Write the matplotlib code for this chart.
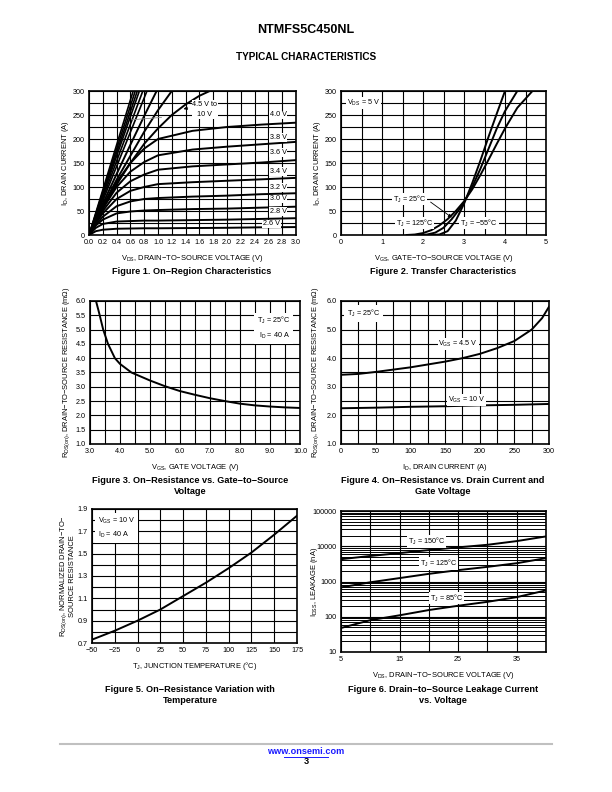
import numpy as np
import matplotlib
matplotlib.use("Agg")
import matplotlib.pyplot as plt
from matplotlib.lines import Line2D
from matplotlib.ticker import MultipleLocator, FixedLocator, NullFormatter, LogLocator

plt.rcParams["font.family"] = ["Liberation Sans", "DejaVu Sans"]
plt.rcParams["mathtext.fontset"] = "custom"
plt.rcParams["mathtext.rm"] = "Liberation Sans"
plt.rcParams["mathtext.it"] = "Liberation Sans"

# ---- Figure 1: on-region characteristics (ID vs VDS) ----
# VGS 4.5 .. 10 V bundle: VDS where the near-linear lines reach 300 A
steep_vds_end = [0.64, 0.67, 0.70, 0.73, 0.78, 0.84]
steep_id_end = 300
curve_a_vds = [0.0, 0.2, 0.4, 0.6, 0.8, 0.98]
curve_a_id = [0, 65, 127, 188, 248, 300]
curve_b_vds = [0.0, 0.2, 0.4, 0.6, 0.8, 1.0, 1.2]
curve_b_id = [0, 60, 115, 165, 215, 260, 300]
vgs45_vds = [0.0, 0.2, 0.4, 0.6, 0.8, 1.0, 1.2, 1.4, 1.6, 1.75]
vgs45_id = [0, 55, 105, 150, 190, 222, 250, 272, 290, 300]

sat_vds = [0.0, 0.1, 0.2, 0.4, 0.6, 0.8, 1.0, 1.5, 2.0, 2.5, 3.0]
sat_id = {
    "4.0 V": [0, 32, 60, 110, 150, 180, 200, 217, 225, 230, 234],
    "3.8 V": [0, 30, 55, 100, 132, 152, 166, 178, 184, 189, 194],
    "3.6 V": [0, 28, 50, 88, 112, 126, 136, 143, 147, 151, 156],
    "3.4 V": [0, 25, 45, 75, 92, 100, 106, 110, 113, 116, 119],
    "3.2 V": [0, 22, 38, 60, 70, 75, 77, 80, 82, 85, 87],
    "3.0 V": [0, 20, 32, 45, 49, 51, 52, 54, 55, 57, 59],
    "2.8 V": [0, 15, 23, 28, 29, 30, 30, 31, 32, 33.5, 35],
    "2.6 V": [0, 8, 11, 13, 13.5, 14, 14, 14.5, 15, 16, 16.5],
}
sat_label_y = {"4.0 V": 250, "3.8 V": 203, "3.6 V": 172, "3.4 V": 133,
               "3.2 V": 99, "3.0 V": 75, "2.8 V": 49, "2.6 V": 23}

# ---- Figure 2: transfer characteristics ----
t_m55_vgs = [2.2, 2.4, 2.6, 2.8, 3.0, 3.2, 3.4, 3.6, 3.8, 4.0]
t_m55_id = [0, 1, 8, 30, 65, 108, 155, 205, 253, 300]
t_25_vgs = [1.9, 2.1, 2.3, 2.5, 2.7, 2.9, 3.0, 3.2, 3.4, 3.6, 3.8, 4.0, 4.3]
t_25_id = [0, 1, 5, 15, 33, 55, 68, 100, 138, 180, 222, 258, 300]
t_125_vgs = [1.6, 1.8, 2.0, 2.2, 2.4, 2.6, 2.8, 3.0, 3.2, 3.4, 3.6, 3.8, 4.0, 4.3, 4.67]
t_125_id = [0, 1, 4, 10, 20, 33, 50, 70, 95, 125, 157, 190, 222, 265, 300]

# ---- Figure 3: RDS(on) vs VGS ----
f3_vgs = [3.2, 3.3, 3.44, 3.6, 3.83, 4.0, 4.38, 5.0, 5.5, 6.0, 6.5, 7.0, 7.5, 8.0, 8.5, 9.0, 9.5, 10.0]
f3_rds = [6.0, 5.6, 5.0, 4.5, 4.0, 3.8, 3.5, 3.22, 3.02, 2.85, 2.72, 2.6, 2.5, 2.41, 2.35, 2.31, 2.28, 2.26]

# ---- Figure 4: RDS(on) vs ID ----
f4_id45 = [0, 25, 50, 75, 100, 125, 150, 175, 200, 225, 250, 275, 290, 300]
f4_rds45 = [3.42, 3.45, 3.52, 3.6, 3.68, 3.78, 3.88, 4.0, 4.15, 4.35, 4.6, 5.0, 5.4, 5.8]
f4_id10 = [0, 50, 100, 150, 200, 250, 300]
f4_rds10 = [2.25, 2.27, 2.3, 2.32, 2.35, 2.37, 2.4]

# ---- Figure 5: normalized RDS(on) vs TJ ----
f5_tj = [-50, -25, 0, 25, 50, 75, 100, 125, 150, 175]
f5_rn = [0.73, 0.81, 0.9, 1.0, 1.12, 1.24, 1.37, 1.51, 1.67, 1.84]

# ---- Figure 6: IDSS leakage vs VDS ----
f6_vds = [5, 10, 15, 20, 25, 30, 35, 40]
f6_150 = [4300, 5300, 6400, 7800, 9300, 11000, 14000, 19000]
f6_125 = [680, 950, 1250, 1650, 2100, 2600, 3300, 4600]
f6_85 = [48, 80, 110, 155, 205, 265, 360, 560]

W, H = 612, 792
fig = plt.figure(figsize=(W / 100, H / 100), dpi=100)

TICK_FS = 5.2
LAB_FS = 5.4
TITLE_FS = 6.6
CURVE_LW = 1.4
box = dict(facecolor="white", edgecolor="none", pad=0.6)


def make_ax(x0, x1, y0, y1):
    ax = fig.add_axes([x0 / W, 1 - y1 / H, (x1 - x0) / W, (y1 - y0) / H])
    for s in ax.spines.values():
        s.set_linewidth(1.2)
    ax.tick_params(which="both", length=0, labelsize=TICK_FS, pad=3)
    ax.grid(which="both", color="black", linewidth=0.8)
    ax.set_axisbelow(True)
    return ax


def fig_title(xc, yc, text):
    fig.text(xc / W, 1 - yc / H, text, ha="center", va="center",
             fontsize=TITLE_FS, fontweight="bold", linespacing=1.25)


# header
fig.text(306 / W, 1 - 30 / H, "NTMFS5C450NL", ha="center", va="center",
         fontsize=9, fontweight="bold")
fig.text(306 / W, 1 - 57 / H, "TYPICAL CHARACTERISTICS", ha="center", va="center",
         fontsize=7.2, fontweight="bold")

# ---------- Figure 1 ----------
ax1 = make_ax(89, 296, 91, 235)
for xe in steep_vds_end:
    ax1.plot([0, xe], [0, steep_id_end], color="black", lw=1.2)
ax1.plot(curve_a_vds, curve_a_id, color="black", lw=CURVE_LW)
ax1.plot(curve_b_vds, curve_b_id, color="black", lw=CURVE_LW)
ax1.plot(vgs45_vds, vgs45_id, color="black", lw=CURVE_LW)
for name, ids in sat_id.items():
    ax1.plot(sat_vds, ids, color="black", lw=CURVE_LW)
    xl = 2.65 if name == "2.6 V" else 2.74
    ax1.text(xl, sat_label_y[name], name, fontsize=TICK_FS, ha="center",
             va="center", bbox=box, zorder=5)
ax1.text(1.68, 262, "4.5 V to\n10 V", fontsize=TICK_FS, ha="center", va="center",
         bbox=box, zorder=5, linespacing=1.6)
ax1.annotate("", xy=(1.33, 261), xytext=(1.47, 266),
             arrowprops=dict(arrowstyle="-|>", color="black", lw=0.6,
                             mutation_scale=5), zorder=6)
ax1.plot([0.62, 1.05], [240, 245], color="0.55", lw=0.6, zorder=4)
ax1.set_xlim(0, 3.0)
ax1.set_ylim(0, 300)
ax1.xaxis.set_major_locator(MultipleLocator(0.2))
ax1.yaxis.set_major_locator(MultipleLocator(50))
ax1.yaxis.set_minor_locator(MultipleLocator(25))
ax1.xaxis.set_major_formatter(plt.FormatStrFormatter("%.1f"))
ax1.set_xlabel(r"V$_{\rm DS}$, DRAIN−TO−SOURCE VOLTAGE (V)", fontsize=LAB_FS, labelpad=5)
ax1.set_ylabel(r"I$_{\rm D}$, DRAIN CURRENT (A)", fontsize=LAB_FS, labelpad=1)
fig_title(192, 271, "Figure 1. On−Region Characteristics")

# ---------- Figure 2 ----------
ax2 = make_ax(341, 546, 91, 235)
ax2.plot(t_m55_vgs, t_m55_id, color="black", lw=CURVE_LW)
ax2.plot(t_25_vgs, t_25_id, color="black", lw=CURVE_LW)
ax2.plot(t_125_vgs, t_125_id, color="black", lw=CURVE_LW)
ax2.set_xlim(0, 5)
ax2.set_ylim(0, 300)
ax2.xaxis.set_major_locator(MultipleLocator(1))
ax2.xaxis.set_minor_locator(MultipleLocator(0.5))
ax2.yaxis.set_major_locator(MultipleLocator(50))
ax2.yaxis.set_minor_locator(MultipleLocator(25))
ax2.text(0.54, 275, r"V$_{\rm DS}$ = 5 V", fontsize=TICK_FS, ha="center", va="center",
         bbox=box, zorder=5)
ax2.text(1.68, 75, r"T$_{\rm J}$ = 25°C", fontsize=TICK_FS, ha="center", va="center",
         bbox=box, zorder=5)
ax2.annotate("", xy=(2.76, 33), xytext=(2.13, 72),
             arrowprops=dict(arrowstyle="-|>", color="black", lw=0.6,
                             mutation_scale=5), zorder=6)
ax2.text(1.80, 25, r"T$_{\rm J}$ = 125°C", fontsize=TICK_FS, ha="center", va="center",
         bbox=box, zorder=5)
ax2.text(3.37, 25, r"T$_{\rm J}$ = −55°C", fontsize=TICK_FS, ha="center", va="center",
         bbox=box, zorder=5)
ax2.set_xlabel(r"V$_{\rm GS}$, GATE−TO−SOURCE VOLTAGE (V)", fontsize=LAB_FS, labelpad=5)
ax2.set_ylabel(r"I$_{\rm D}$, DRAIN CURRENT (A)", fontsize=LAB_FS, labelpad=1)
fig_title(443, 271, "Figure 2. Transfer Characteristics")

# ---------- Figure 3 ----------
ax3 = make_ax(90, 300, 301, 444)
ax3.plot(f3_vgs, f3_rds, color="black", lw=CURVE_LW)
ax3.set_xlim(3.0, 10.0)
ax3.set_ylim(1.0, 6.0)
ax3.xaxis.set_major_locator(MultipleLocator(1))
ax3.xaxis.set_minor_locator(MultipleLocator(0.5))
ax3.yaxis.set_major_locator(MultipleLocator(0.5))
ax3.xaxis.set_major_formatter(plt.FormatStrFormatter("%.1f"))
ax3.yaxis.set_major_formatter(plt.FormatStrFormatter("%.1f"))
ax3.text(0.955, 0.90, "T$_{\\rm J}$ = 25°C\nI$_{\\rm D}$ = 40 A", transform=ax3.transAxes,
         fontsize=TICK_FS, ha="right", va="top", bbox=dict(facecolor="white",
         edgecolor="none", pad=2), zorder=5, linespacing=1.6)
ax3.set_xlabel(r"V$_{\rm GS}$, GATE VOLTAGE (V)", fontsize=LAB_FS, labelpad=5)
ax3.set_ylabel(r"R$_{\rm DS(on)}$, DRAIN−TO−SOURCE RESISTANCE (mΩ)", fontsize=LAB_FS,
               labelpad=3)
fig_title(190, 486, "Figure 3. On−Resistance vs. Gate−to−Source\nVoltage")

# ---------- Figure 4 ----------
ax4 = make_ax(341, 549, 301, 444)
ax4.plot(f4_id45, f4_rds45, color="black", lw=CURVE_LW)
ax4.plot(f4_id10, f4_rds10, color="black", lw=CURVE_LW)
ax4.set_xlim(0, 300)
ax4.set_ylim(1.0, 6.0)
ax4.xaxis.set_major_locator(MultipleLocator(50))
ax4.xaxis.set_minor_locator(MultipleLocator(25))
ax4.yaxis.set_major_locator(MultipleLocator(1.0))
ax4.yaxis.set_minor_locator(MultipleLocator(0.5))
ax4.yaxis.set_major_formatter(plt.FormatStrFormatter("%.1f"))
ax4.text(169, 4.5, r"V$_{\rm GS}$ = 4.5 V", fontsize=TICK_FS, ha="center", va="center",
         bbox=box, zorder=5)
ax4.text(181, 2.55, r"V$_{\rm GS}$ = 10 V", fontsize=TICK_FS, ha="center", va="center",
         bbox=box, zorder=5)
ax4.text(0.03, 0.95, r"T$_{\rm J}$ = 25°C", transform=ax4.transAxes, fontsize=TICK_FS,
         ha="left", va="top", bbox=dict(facecolor="white", edgecolor="none", pad=2),
         zorder=5)
ax4.set_xlabel(r"I$_{\rm D}$, DRAIN CURRENT (A)", fontsize=LAB_FS, labelpad=5)
ax4.set_ylabel(r"R$_{\rm DS(on)}$, DRAIN−TO−SOURCE RESISTANCE (mΩ)", fontsize=LAB_FS,
               labelpad=4)
fig_title(443, 486, "Figure 4. On−Resistance vs. Drain Current and\nGate Voltage")

# ---------- Figure 5 ----------
ax5 = make_ax(92, 297, 509, 643)
ax5.plot(f5_tj, f5_rn, color="black", lw=CURVE_LW)
ax5.set_xlim(-50, 175)
ax5.set_ylim(0.7, 1.9)
ax5.xaxis.set_major_locator(MultipleLocator(25))
ax5.yaxis.set_major_locator(FixedLocator([0.7, 0.9, 1.1, 1.3, 1.5, 1.7, 1.9]))
ax5.yaxis.set_minor_locator(MultipleLocator(0.1))
ax5.yaxis.set_major_formatter(plt.FormatStrFormatter("%.1f"))
ax5.xaxis.set_major_formatter(plt.FuncFormatter(lambda v, p: f"{int(v)}".replace("-", "−")))
ax5.text(0.03, 0.95, "V$_{\\rm GS}$ = 10 V\nI$_{\\rm D}$ = 40 A", transform=ax5.transAxes,
         fontsize=TICK_FS, ha="left", va="top", bbox=dict(facecolor="white",
         edgecolor="none", pad=2), zorder=5, linespacing=1.6)
ax5.set_xlabel(r"T$_{\rm J}$, JUNCTION TEMPERATURE (°C)", fontsize=LAB_FS, labelpad=4)
ax5.set_ylabel("R$_{\\rm DS(on)}$, NORMALIZED DRAIN−TO−\nSOURCE RESISTANCE",
               fontsize=LAB_FS, labelpad=1, linespacing=1.1)
fig_title(190, 695, "Figure 5. On−Resistance Variation with\nTemperature")

# ---------- Figure 6 ----------
ax6 = make_ax(341, 546, 511, 652)
ax6.set_yscale("log")
ax6.plot(f6_vds, f6_150, color="black", lw=CURVE_LW)
ax6.plot(f6_vds, f6_125, color="black", lw=CURVE_LW)
ax6.plot(f6_vds, f6_85, color="black", lw=CURVE_LW)
ax6.set_xlim(5, 40)
ax6.set_ylim(10, 100000)
ax6.xaxis.set_major_locator(FixedLocator([5, 15, 25, 35]))
ax6.xaxis.set_minor_locator(MultipleLocator(5))
ax6.yaxis.set_major_locator(LogLocator(base=10))
ax6.yaxis.set_minor_locator(LogLocator(base=10, subs=np.arange(2, 10)))
ax6.yaxis.set_minor_formatter(NullFormatter())
ax6.yaxis.set_major_formatter(plt.FuncFormatter(lambda v, p: f"{int(round(v))}"))
ax6.grid(which="minor", axis="y", color="black", linewidth=0.7)
ax6.text(19.6, 13500, r"T$_{\rm J}$ = 150°C", fontsize=TICK_FS, ha="center", va="center",
         bbox=box, zorder=5)
ax6.text(21.6, 3300, r"T$_{\rm J}$ = 125°C", fontsize=TICK_FS, ha="center", va="center",
         bbox=box, zorder=5)
ax6.text(23.0, 340, r"T$_{\rm J}$ = 85°C", fontsize=TICK_FS, ha="center", va="center",
         bbox=box, zorder=5)
ax6.set_xlabel(r"V$_{\rm DS}$, DRAIN−TO−SOURCE VOLTAGE (V)", fontsize=LAB_FS, labelpad=5)
ax6.set_ylabel(r"I$_{\rm DSS}$, LEAKAGE (nA)", fontsize=LAB_FS, labelpad=-5)
fig_title(443, 695, "Figure 6. Drain−to−Source Leakage Current\nvs. Voltage")

# footer
fig.add_artist(Line2D([60 / W, 552 / W], [1 - 744 / H, 1 - 744 / H],
                      color="#c0c0c0", lw=1.5))
fig.text(306 / W, 1 - 752 / H, "www.onsemi.com", ha="center", va="center",
         fontsize=6.6, fontweight="bold", color="#1a1aff")
fig.add_artist(Line2D([284 / W, 328 / W], [1 - 756.5 / H, 1 - 756.5 / H],
                      color="#1a1aff", lw=0.7))
fig.text(306 / W, 1 - 762 / H, "3", ha="center", va="center",
         fontsize=6.6, fontweight="bold")

fig.savefig("out.png", dpi=100)
